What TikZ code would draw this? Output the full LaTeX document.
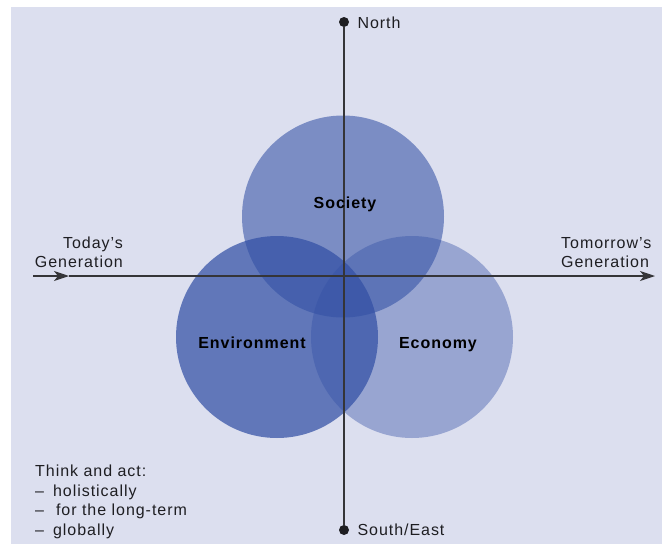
\documentclass[tikz,border=0pt]{standalone}
\usepackage{fontspec}
\setmainfont[LetterSpace=6]{Liberation Sans}
\usetikzlibrary{arrows.meta}
\definecolor{panel}{RGB}{220,223,239}
\definecolor{ring}{RGB}{50,80,165}
\definecolor{ink}{RGB}{30,30,34}
\tikzset{
  every node/.style={font=\fontsize{16}{19.5}\selectfont, text=ink},
  pillar/.style={circle, inner sep=0pt, minimum size=202pt, draw=none, fill=ring},
  pillarlabel/.style={font=\fontsize{16}{19}\selectfont\bfseries, text=black, anchor=base},
  axis/.style={draw=ink!90, line width=1.1pt},
  tip/.style={-{Stealth[length=15pt,width=10pt,inset=4pt]}},
  pole/.style={circle, fill=ink, inner sep=0pt, minimum size=10pt},
}
\begin{document}
\begin{tikzpicture}[x=1pt,y=-1pt]
\useasboundingbox (0,0) rectangle (662,544);
\fill[panel] (11,7) rectangle (662,544);

% the three pillars of sustainability
\node[pillar, fill opacity=0.57] (society) at (343,216.5) {};
\node[pillar, fill opacity=0.72] (environment) at (277,337) {};
\node[pillar, fill opacity=0.40] (economy) at (412,337) {};

% time axis and space axis
\coordinate (west) at (33,276);
\coordinate (mid) at (69,276);
\coordinate (east) at (655,276);
\node[pole] (north) at (344,22) {};
\node[pole] (south) at (344,530) {};
\draw[axis] (north) -- (south);
\draw[axis, tip] (west) -- (mid);
\draw[axis, tip] (mid) -- (east);

% axis labels
\node[anchor=west] (northlabel) at (354,23) {North};
\node[anchor=west] (southlabel) at (354,530) {South/East};
\node[anchor=south east, align=right, inner sep=0pt] (today) at (123,268) {Today’s\\Generation};
\node[anchor=south west, align=left, inner sep=0pt] (tomorrow) at (561,268) {Tomorrow’s\\Generation};

% pillar labels
\node[pillarlabel] (soclabel) at (345,208.5) {Society};
\node[pillarlabel] (envlabel) at (252,348.5) {Environment};
\node[pillarlabel] (ecolabel) at (438,348.5) {Economy};

% guiding principles
\node[anchor=north west, align=left, inner sep=0pt] (principles) at (35,465)
  {Think and act:\\–\hspace{9pt}holistically\\–\hspace{12pt}for the long-term\\–\hspace{9pt}globally};
\end{tikzpicture}
\end{document}
